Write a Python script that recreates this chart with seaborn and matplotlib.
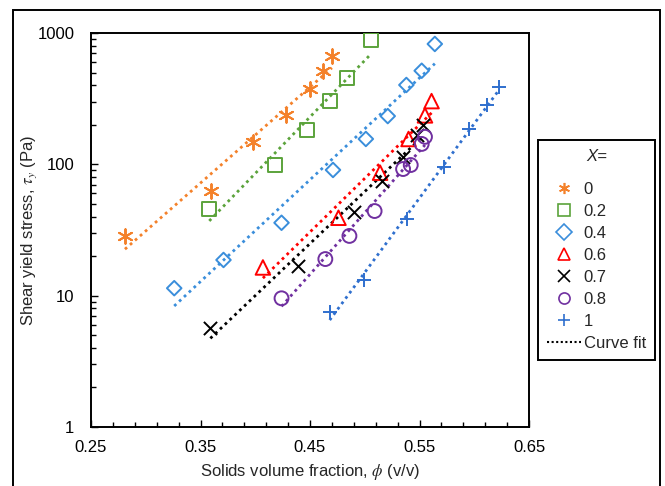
import numpy as np
import pandas as pd
import matplotlib
matplotlib.use("Agg")
import matplotlib.pyplot as plt
from matplotlib.lines import Line2D
from matplotlib.patches import Rectangle
from matplotlib.ticker import FixedLocator, LogLocator, NullFormatter, FixedFormatter
import seaborn as sns

# Yield stress measurements for each composition X
labels = ["0", "0.2", "0.4", "0.6", "0.7", "0.8", "1"]

phi_0 = [0.281, 0.360, 0.398, 0.428, 0.450, 0.462, 0.470]
tau_0 = [28.5, 63, 149, 239, 376, 516, 671]

phi_02 = [0.358, 0.418, 0.447, 0.468, 0.484, 0.506]
tau_02 = [45.7, 99, 182, 305, 454, 880]

phi_04 = [0.326, 0.371, 0.424, 0.471, 0.501, 0.521, 0.538, 0.552, 0.564]
tau_04 = [11.4, 18.7, 35.9, 90.6, 156, 233, 402, 516, 825]

phi_06 = [0.407, 0.476, 0.514, 0.540, 0.555, 0.561]
tau_06 = [16.4, 39.2, 86.4, 156, 236, 303]

phi_07 = [0.359, 0.439, 0.490, 0.516, 0.535, 0.548, 0.553]
tau_07 = [5.7, 16.9, 43.6, 74.7, 114, 167, 199]

phi_08 = [0.424, 0.464, 0.486, 0.509, 0.535, 0.542, 0.552, 0.555]
tau_08 = [9.55, 19.0, 28.5, 44.1, 92.1, 98.8, 143, 162]

phi_1 = [0.468, 0.499, 0.539, 0.572, 0.595, 0.612, 0.623]
tau_1 = [7.47, 13.1, 38.1, 95.9, 186, 283, 386]

x_ticks = [0.25, 0.35, 0.45, 0.55, 0.65]
x_tick_labels = ["0.25", "0.35", "0.45", "0.55", "0.65"]
y_ticks = [1, 10, 100, 1000]
y_tick_labels = ["1", "10", "100", "1000"]

phis = [phi_0, phi_02, phi_04, phi_06, phi_07, phi_08, phi_1]
taus = [tau_0, tau_02, tau_04, tau_06, tau_07, tau_08, tau_1]

colors = ["#F4812A", "#5BA33B", "#3A8EDB", "#FF0000", "#000000", "#7030A0", "#2F6FCE"]
markers = [(6, 2, 0), "s", "D", "^", "x", "o", "+"]
sizes = [110, 100, 55, 110, 90, 100, 90]
open_marker = [False, True, True, True, False, True, False]

sns.set_style("white")
plt.rcParams["font.family"] = ["Liberation Sans", "DejaVu Sans"]
plt.rcParams["mathtext.fontset"] = "stix"

fig = plt.figure(figsize=(6.65, 4.86), dpi=100)
ax = fig.add_axes([91 / 665, 1 - 427 / 486, 438 / 665, 394 / 486])

for lab, ph, ta, c, m, s, op in zip(labels, phis, taus, colors, markers, sizes, open_marker):
    df = pd.DataFrame({"phi": ph, "tau": ta})
    # exponential fit: straight line on the semi-log axes
    b, a = np.polyfit(df["phi"], np.log10(df["tau"]), 1)
    xf = np.linspace(df["phi"].min(), df["phi"].max(), 50)
    fit = pd.DataFrame({"phi": xf, "tau": 10 ** (a + b * xf)})
    sns.lineplot(data=fit, x="phi", y="tau", ax=ax, color=c, linestyle=(0, (1, 1.4)),
                 linewidth=2.0, zorder=2)
    if op:
        sns.scatterplot(data=df, x="phi", y="tau", ax=ax, marker=m, s=s,
                        facecolor="none", edgecolor=c, linewidth=1.4, zorder=3)
    else:
        sns.scatterplot(data=df, x="phi", y="tau", ax=ax, marker=m, s=s,
                        color=c, linewidth=1.4, zorder=3)

ax.set_yscale("log")
ax.set_xlim(0.25, 0.65)
ax.set_ylim(1, 1000)

ax.xaxis.set_major_locator(FixedLocator(x_ticks))
ax.xaxis.set_major_formatter(FixedFormatter(x_tick_labels))
ax.xaxis.set_minor_locator(FixedLocator(np.arange(0.25, 0.651, 0.02)))
ax.yaxis.set_major_locator(FixedLocator(y_ticks))
ax.yaxis.set_major_formatter(FixedFormatter(y_tick_labels))
ax.yaxis.set_minor_locator(LogLocator(base=10, subs=np.arange(2, 10)))
ax.yaxis.set_minor_formatter(NullFormatter())

ax.tick_params(axis="both", which="both", direction="in", colors="black",
               labelsize=12, left=True, bottom=True, right=False, top=False)
ax.tick_params(axis="both", which="major", length=5, width=1.0)
ax.tick_params(axis="both", which="minor", length=3.5, width=1.0)
ax.tick_params(axis="x", which="major", pad=9)
ax.tick_params(axis="y", which="major", pad=12)

for sp in ax.spines.values():
    sp.set_color("black")
    sp.set_linewidth(1.4)
    sp.set_visible(True)

ax.set_xlabel(r"Solids volume fraction, $\phi$ (v/v)", fontsize=12)
ax.set_ylabel(r"Shear yield stress, $\tau_y$ (Pa)", fontsize=12)
ax.xaxis.set_label_coords(0.5, -0.088)
ax.yaxis.set_label_coords(-0.118, 0.5)

handles = []
for lab, c, m, op in zip(labels, colors, markers, open_marker):
    handles.append(Line2D([], [], linestyle="none", marker=m, markersize=8,
                          markerfacecolor="none" if op else c, markeredgecolor=c,
                          markeredgewidth=1.2, color=c, label=lab))
handles.append(Line2D([], [], color="black", linestyle=(0, (1, 1.2)), linewidth=1.5,
                      label="Curve fit"))

leg = ax.legend(handles=handles, loc="upper left",
                bbox_to_anchor=(538 / 665, 1 - 140 / 486), bbox_transform=fig.transFigure,
                title="X=", title_fontproperties={"style": "italic", "size": 12},
                fontsize=12, frameon=True, fancybox=False, framealpha=1,
                edgecolor="black", borderaxespad=0, borderpad=0.55,
                labelspacing=0.42, handlelength=2.0, handletextpad=0.2)
leg.get_frame().set_linewidth(1.4)
# extra room between the legend title and its entries
leg._legend_box.sep = 13

fig.patches.append(Rectangle((13 / 665, -0.05), 647 / 665, 1 - 10 / 486 + 0.05,
                             transform=fig.transFigure, fill=False,
                             edgecolor="black", linewidth=1.4))

fig.savefig("out.png", dpi=100)
